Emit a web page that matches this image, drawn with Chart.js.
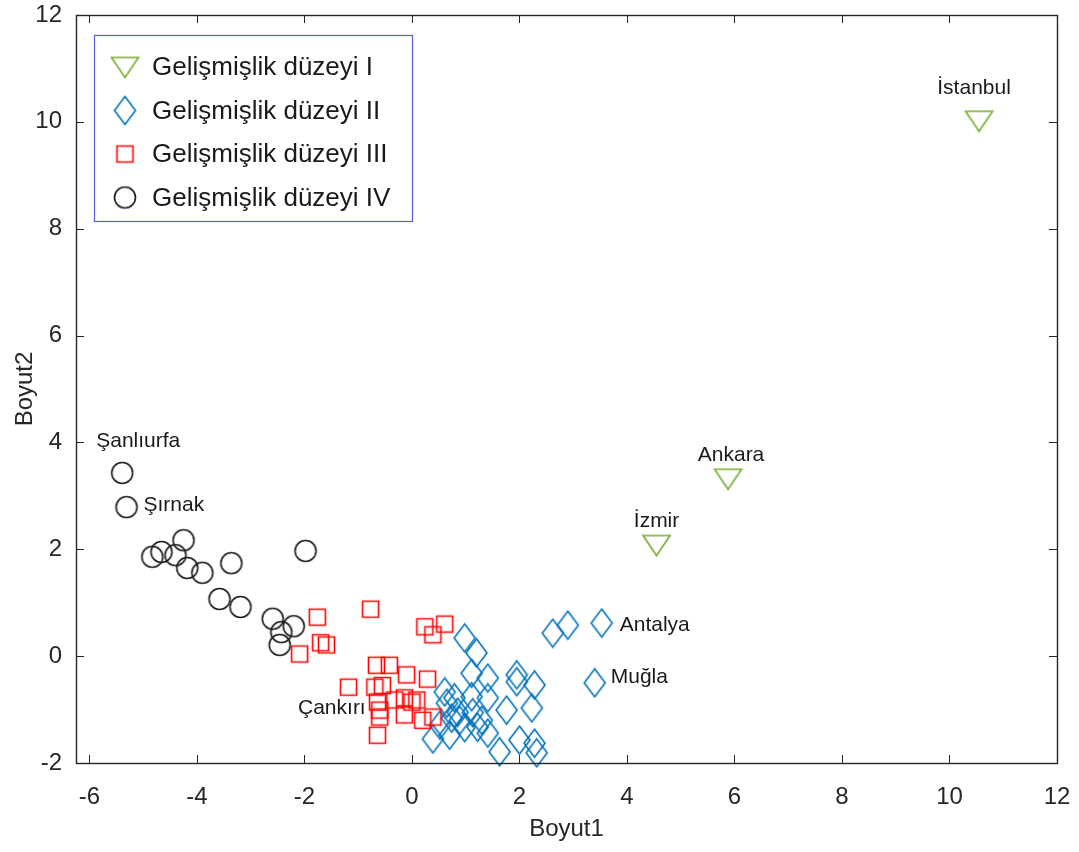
<!DOCTYPE html>
<html>
<head>
<meta charset="utf-8">
<script src="https://cdn.jsdelivr.net/npm/chart.js@4.4.0/dist/chart.umd.min.js"></script>
<style>
  body { margin: 0; background: #fff; }
</style>
</head>
<body>
<canvas id="Graphique" width="1079" height="852"></canvas>
<script>
// values
var groupNames = ['Gelişmişlik düzeyi I', 'Gelişmişlik düzeyi II', 'Gelişmişlik düzeyi III', 'Gelişmişlik düzeyi IV'];

var g1X = [10.55, 5.88, 4.55];
var g1Y = [10.02, 3.32, 2.08];

var g2X = [3.53, 3.40, 2.62, 2.90, 0.98, 1.20, 1.11, 1.41, 1.95, 1.95, 2.28, 0.61, 1.11, 1.41, 1.76, 2.23, 0.65,
           0.85, 1.13, 1.30, 0.39, 0.70, 0.98, 1.41, 1.63, 2.00, 2.28, 2.32, 0.79, 0.89, 1.22, 0.52, 0.74];
var g2Y = [0.62, -0.50, 0.43, 0.58, 0.34, 0.06, -0.32, -0.41, -0.35, -0.48, -0.54, -0.67, -0.76, -0.78, -1.01, -0.97, -0.88,
           -1.05, -1.06, -1.20, -1.55, -1.48, -1.34, -1.44, -1.79, -1.57, -1.63, -1.81, -0.78, -1.20, -1.33, -1.29, -1.16];

var g3X = [-1.76, -1.70, -1.59, -2.09, -0.77, 0.24, 0.39, 0.61, -0.66, -0.42, -0.10, 0.29, -1.18,
           -0.69, -0.64, -0.60, -0.60, -0.32, -0.14, 0.00, 0.09, -0.14, 0.20, 0.39, -0.64, -0.55];
var g3Y = [0.73, 0.25, 0.21, 0.04, 0.88, 0.55, 0.40, 0.60, -0.17, -0.17, -0.35, -0.43, -0.58,
           -0.58, -0.86, -1.01, -1.14, -0.82, -0.78, -0.86, -0.82, -1.10, -1.20, -1.14, -1.48, -0.55];

var g4X = [-5.39, -5.31, -4.83, -4.66, -4.40, -4.25, -4.18, -3.90, -3.36, -1.98, -3.58, -3.19, -2.59, -2.20, -2.43, -2.46];
var g4Y = [3.43, 2.79, 1.86, 1.95, 1.89, 2.17, 1.65, 1.56, 1.74, 1.97, 1.07, 0.92, 0.70, 0.56, 0.45, 0.21];

var xTicks = [-6, -4, -2, 0, 2, 4, 6, 8, 10, 12];
var yTicks = [-2, 0, 2, 4, 6, 8, 10, 12];

// named points: group index, point index, name
var pointNames = [
    [0, 0, 'İstanbul'], [0, 1, 'Ankara'], [0, 2, 'İzmir'],
    [1, 0, 'Antalya'], [1, 1, 'Muğla'],
    [2, 15, 'Çankırı'],
    [3, 0, 'Şanlıurfa'], [3, 1, 'Şırnak']
];

// label placement relative to the point (pixels)
var labelPos = {
    'İstanbul': [-5, -33, 'center'],
    'Ankara': [3, -24, 'center'],
    'İzmir': [0, -24, 'center'],
    'Antalya': [18, 2, 'left'],
    'Muğla': [16, -6, 'left'],
    'Çankırı': [-14, -2, 'right'],
    'Şanlıurfa': [16, -32, 'center'],
    'Şırnak': [17, -2, 'left']
};

var police = '"Liberation Sans", Arial, sans-serif';
var gris = '#262626';
var couleurs = ['#77AC30', '#0072BD', '#FF0000', '#1a1a1a'];

function toPoints(xs, ys) {
    return xs.map(function (x, i) { return {x: x, y: ys[i]}; });
}

// marker images (open symbols like the original)
function makeMarker(shape, color) {
    var c = document.createElement('canvas');
    var w = 26, h = 26;
    if (shape === 'diamond') { w = 25; h = 31; }
    if (shape === 'triangle') { w = 31; h = 25; }
    if (shape === 'square') { w = 21; h = 21; }
    c.width = w; c.height = h;
    var g = c.getContext('2d');
    g.strokeStyle = color;
    g.lineWidth = 1.6;
    g.beginPath();
    if (shape === 'circle') {
        g.arc(w / 2, h / 2, 10.5, 0, Math.PI * 2);
    } else if (shape === 'square') {
        g.rect(2.5, 2.5, 16, 16);
    } else if (shape === 'diamond') {
        g.moveTo(w / 2, 1.5); g.lineTo(w - 2, h / 2); g.lineTo(w / 2, h - 1.5); g.lineTo(2, h / 2); g.closePath();
    } else {
        g.moveTo(2, 3); g.lineTo(w - 2, 3); g.lineTo(w / 2, h - 2); g.closePath();
    }
    g.stroke();
    return c;
}

var marqueurs = [
    makeMarker('triangle', couleurs[0]),
    makeMarker('diamond', couleurs[1]),
    makeMarker('square', couleurs[2]),
    makeMarker('circle', couleurs[3])
];

var cadrePlugin = {
    id: 'cadre',
    afterDatasetsDraw: function (chart) {
        var ctx = chart.ctx, a = chart.chartArea;
        var sx = chart.scales.x, sy = chart.scales.y;
        ctx.save();
        ctx.strokeStyle = gris;
        ctx.lineWidth = 1;
        xTicks.forEach(function (v) {
            var px = Math.round(sx.getPixelForValue(v)) + 0.5;
            ctx.beginPath();
            ctx.moveTo(px, a.bottom); ctx.lineTo(px, a.bottom - 8);
            ctx.moveTo(px, a.top); ctx.lineTo(px, a.top + 8);
            ctx.stroke();
        });
        yTicks.forEach(function (v) {
            var py = Math.round(sy.getPixelForValue(v)) + 0.5;
            ctx.beginPath();
            ctx.moveTo(a.left, py); ctx.lineTo(a.left + 8, py);
            ctx.moveTo(a.right, py); ctx.lineTo(a.right - 8, py);
            ctx.stroke();
        });
        ctx.lineWidth = 1.4;
        ctx.strokeRect(Math.round(a.left) + 0.5, Math.round(a.top) + 0.5, Math.round(a.right - a.left), Math.round(a.bottom - a.top));
        ctx.restore();
    }
};

var etiquettesPlugin = {
    id: 'etiquettes',
    afterDatasetsDraw: function (chart) {
        var ctx = chart.ctx;
        ctx.save();
        ctx.font = '21px ' + police;
        ctx.fillStyle = '#1a1a1a';
        ctx.textBaseline = 'middle';
        pointNames.forEach(function (p) {
            var el = chart.getDatasetMeta(p[0]).data[p[1]];
            var pos = labelPos[p[2]];
            ctx.textAlign = pos[2];
            ctx.fillText(p[2], el.x + pos[0], el.y + pos[1]);
        });
        ctx.restore();
    }
};

var legendePlugin = {
    id: 'legende',
    afterDraw: function (chart) {
        var ctx = chart.ctx;
        var lx = 94, ly = 35, lw = 318, lh = 186;
        ctx.save();
        ctx.fillStyle = '#fff';
        ctx.fillRect(lx, ly, lw, lh);
        ctx.strokeStyle = '#5a5ae6';
        ctx.lineWidth = 1.2;
        ctx.strokeRect(lx + 0.5, ly + 0.5, lw, lh);
        ctx.font = '26px ' + police;
        ctx.fillStyle = '#1a1a1a';
        ctx.textBaseline = 'middle';
        ctx.textAlign = 'left';
        chart.data.datasets.forEach(function (ds, i) {
            var cy = 67 + i * 43.5;
            var m = marqueurs[i];
            ctx.drawImage(m, 125 - m.width / 2, cy - m.height / 2);
            ctx.fillText(ds.label, 152, cy + 1);
        });
        ctx.restore();
    }
};

var datasets = [
    [g1X, g1Y], [g2X, g2Y], [g3X, g3Y], [g4X, g4Y]
].map(function (g, i) {
    return {
        label: groupNames[i],
        data: toPoints(g[0], g[1]),
        pointStyle: marqueurs[i],
        pointRadius: 10,
        clip: false,
        order: 4 - i // later groups on top, like the original
    };
});

var chartObj = new Chart(document.getElementById('Graphique').getContext('2d'), {
    type: 'scatter',
    data: {datasets: datasets},
    plugins: [cadrePlugin, etiquettesPlugin, legendePlugin],
    options: {
        responsive: false,
        animation: false,
        devicePixelRatio: 1,
        events: [],
        layout: {padding: {top: 15, right: 22, left: 0, bottom: 0}},
        plugins: {
            legend: {display: false},
            tooltip: {enabled: false}
        },
        scales: {
            x: {
                type: 'linear',
                min: -6.25,
                max: 12,
                grid: {display: false},
                border: {display: false},
                afterBuildTicks: function (s) { s.ticks = xTicks.map(function (v) { return {value: v}; }); },
                afterFit: function (s) { s.height = 89; s.paddingLeft = 0; s.paddingRight = 0; },
                ticks: {color: gris, padding: 12, maxRotation: 0, autoSkip: false, font: {size: 24, family: police}},
                title: {display: true, text: 'Boyut1', color: gris, font: {size: 24, family: police}, padding: {top: 0, bottom: 8}}
            },
            y: {
                type: 'linear',
                min: -2,
                max: 12,
                grid: {display: false},
                border: {display: false},
                afterBuildTicks: function (s) { s.ticks = yTicks.map(function (v) { return {value: v}; }); },
                afterFit: function (s) { s.width = 76; s.paddingTop = 0; s.paddingBottom = 0; },
                ticks: {color: gris, padding: 6, autoSkip: false, font: {size: 24, family: police}},
                title: {display: true, text: 'Boyut2', color: gris, font: {size: 24, family: police}, padding: {top: 11, bottom: 0}}
            }
        }
    }
});
</script>
</body>
</html>
